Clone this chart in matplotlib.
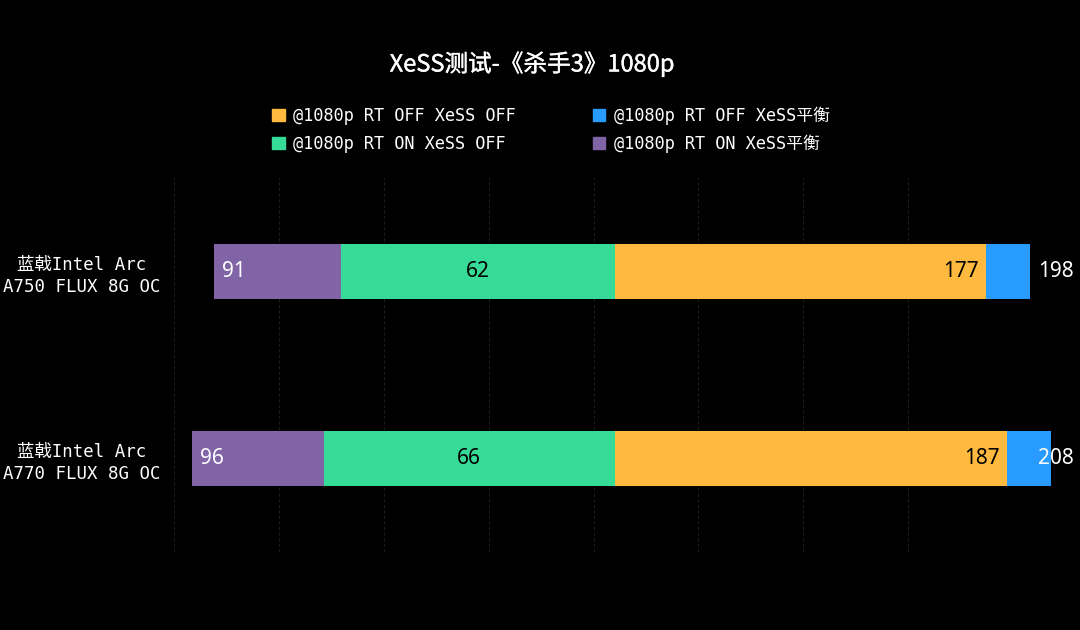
import matplotlib
matplotlib.use("Agg")
import matplotlib.pyplot as plt
import matplotlib.patches as mpatches
import matplotlib.patheffects as pe
from matplotlib.transforms import blended_transform_factory
from matplotlib.font_manager import FontProperties

# data
cards = ["蓝戟Intel Arc\nA750 FLUX 8G OC", "蓝戟Intel Arc\nA770 FLUX 8G OC"]
rt_off_xess_off = [177, 187]
rt_off_xess_bal = [198, 208]
rt_on_xess_off = [62, 66]
rt_on_xess_bal = [91, 96]
series_names = ["@1080p RT OFF XeSS OFF", "@1080p RT ON XeSS OFF",
                "@1080p RT OFF XeSS平衡", "@1080p RT ON XeSS平衡"]
title = "XeSS测试-《杀手3》1080p"

c_orange = "#FFB93E"
c_blue = "#279BFF"
c_green = "#36DB98"
c_purple = "#8064A6"

mono = ["DejaVu Sans Mono", "Noto Sans CJK SC"]
num_font = ["Noto Sans", "DejaVu Sans"]

fig = plt.figure(figsize=(10.8, 6.3), dpi=100, facecolor="black")

# right side axis (RT OFF) and left side axis (RT ON, reversed)
ax_r = fig.add_axes([174 / 1080, 78 / 630, 839 / 1080, 374 / 630])
ax_r.set_facecolor("none")
ax_l = ax_r.twiny()
ax_l.set_facecolor("none")

y = list(range(len(cards)))
h = 0.29

ax_r.barh(y, rt_off_xess_bal, height=h, color=c_blue, clip_on=False, zorder=2)
ax_r.barh(y, rt_off_xess_off, height=h, color=c_orange, clip_on=False, zorder=3)
ax_l.barh(y, rt_on_xess_bal, height=h, color=c_purple, clip_on=False, zorder=2)
ax_l.barh(y, rt_on_xess_off, height=h, color=c_green, clip_on=False, zorder=3)

ax_r.set_xlim(-210, 190)
ax_l.set_xlim(100, -90.4)
ax_r.set_ylim(1.5, -0.5)

# vertical grid
ax_r.set_xticks(range(-210, 191, 50))
ax_r.grid(axis="x", color="#1c1c1c", linewidth=0.8, linestyle=(0, (3, 2)))
ax_r.set_axisbelow(True)
ax_r.tick_params(axis="x", length=0, labelbottom=False)
ax_l.set_xticks([])
for a in (ax_r, ax_l):
    for s in a.spines.values():
        s.set_visible(False)

# category labels
ax_r.set_yticks(y)
ax_r.set_yticklabels(cards)
ax_r.tick_params(axis="y", length=0, pad=10)
for lab in ax_r.get_yticklabels():
    lab.set_fontfamily(mono)
    lab.set_fontsize(12.5)
    lab.set_color("white")
    lab.set_multialignment("center")
    lab.set_linespacing(1.3)

# value labels
tr_out = blended_transform_factory(ax_r.transAxes, ax_r.transData)
for i in y:
    ax_l.text(rt_on_xess_bal[i] - 2, i, str(rt_on_xess_bal[i]), ha="left", va="center",
              color="white", fontsize=15, family=num_font, zorder=5)
    ax_l.text(rt_on_xess_off[i] / 2, i, str(rt_on_xess_off[i]), ha="center", va="center",
              color="black", fontsize=15, family=num_font, zorder=5)
    ax_r.text(rt_off_xess_off[i] - 3.5, i, str(rt_off_xess_off[i]), ha="right", va="center",
              color="black", fontsize=15, family=num_font, zorder=5)
    ax_r.text(1.03, i, str(rt_off_xess_bal[i]), ha="left", va="center", transform=tr_out,
              color="white", fontsize=15, family=num_font, zorder=5, clip_on=False)

# legend
handles = [mpatches.Patch(color=c) for c in (c_orange, c_green, c_blue, c_purple)]
leg = fig.legend(handles, series_names, ncol=2, loc="center", bbox_to_anchor=(551 / 1080, 1 - 130 / 630),
                 frameon=False, prop=FontProperties(family=mono, size=12.2),
                 handlelength=0.72, handleheight=0.72, handletextpad=0.5,
                 columnspacing=4.55, labelspacing=0.55)
for t in leg.get_texts():
    t.set_color("white")

fig.text(532 / 1080, 1 - 64 / 630, title, ha="center", va="center", color="white",
         fontsize=17, family=["Noto Sans CJK SC", "DejaVu Sans"],
         path_effects=[pe.withStroke(linewidth=0.3, foreground="white")])

fig.savefig("out.png", dpi=100, facecolor="black")
